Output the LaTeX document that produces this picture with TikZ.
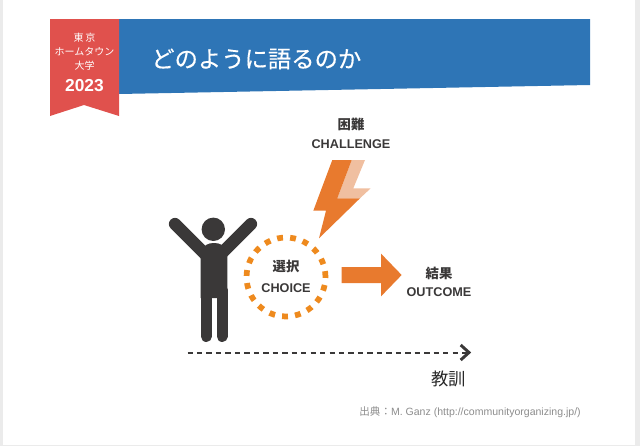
\documentclass[tikz,border=0pt]{standalone}
\usepackage{fontspec}
\setmainfont{Noto Sans CJK JP}
\newfontfamily\latinbold{Liberation Sans}
\newfontfamily\titlefont[FakeBold=0.4]{Noto Sans CJK JP}
\usetikzlibrary{arrows.meta,positioning,shapes.arrows}
\definecolor{ribbon}{HTML}{E0514D}
\definecolor{banner}{HTML}{2E75B6}
\definecolor{bolt}{HTML}{E87A2E}
\definecolor{boltlight}{HTML}{F0BFA0}
\definecolor{ring}{HTML}{EE8A1E}
\definecolor{figure}{HTML}{3A3838}
\begin{document}
\begin{tikzpicture}[
	x=0.75pt,y=-0.75pt,
	caption/.style={text=figure,font=\fontsize{10}{12}\selectfont\bfseries,align=center,inner sep=0pt},
	captionen/.style={caption,font=\latinbold\fontsize{9.5}{12}\selectfont\bfseries},
	limb/.style={figure,line width=9.2pt,line cap=round}
	]
	\useasboundingbox (0,0) rectangle (640,446);
	\fill[black!8] (0,0) rectangle (3,446);
	\fill[black!8] (635,0) rectangle (640,446);
	\fill[black!8] (0,445) rectangle (640,446);
	
	\fill[banner] (119,19) -- (590,19) -- (590,85) -- (119,94) -- cycle;
	\fill[ribbon] (50,19) -- (119,19) -- (119,116) -- (84,105) -- (50,116) -- cycle;
	\node[text=white,inner sep=0pt,align=center,font=\fontsize{7.5}{10.5}\selectfont] (school) at (84.5,52) {東\,京\\ホームタウン\\大学};
	\node[text=white,inner sep=0pt,font=\latinbold\fontsize{13}{14}\selectfont\bfseries] (year) at (84.5,86) {2023};
	\node[text=white,inner sep=0pt,anchor=west,font=\titlefont\fontsize{17.5}{20}\selectfont] (title) at (151,59) {どのように語るのか};
	
	% person
	\fill[figure] (213.3,229.3) circle (11.7);
	\draw[limb] (175,224) -- (205,254);
	\draw[limb] (251,224) -- (221,254);
	\fill[figure] (200.7,298) -- (200.7,252) .. controls (204,245) and (208,243) .. (214,243) .. controls (220,243) and (224,245) .. (227.3,252) -- (227.3,298) -- cycle;
	\draw[limb,line width=8.25pt] (206.2,290) -- (206.2,336.5);
	\draw[limb,line width=8.25pt] (222,290) -- (222,336.5);
	
	\node[circle,draw=ring,line width=4.3pt,dash pattern=on 4.4pt off 5.35pt,minimum size=59.2pt,inner sep=0pt] (choice) at (286,277) {};
	\node[caption] (choiceja) at (286,266) {選択};
	\node[captionen] (choiceen) at (286,288) {CHOICE};
	
	% bolt
	\fill[boltlight] (351.7,160) -- (365,160) -- (353.3,188.3) -- (370.7,188.3) -- (360,198.3) -- (337.3,198.3) -- cycle;
	\fill[bolt] (332.3,160) -- (351.7,160) -- (337.3,198.3) -- (360,198.3) -- (319,238.3) -- (326,210.7) -- (313.3,210.7) -- cycle;
	\node[caption] (challengeja) at (351,124) {困難};
	\node[captionen] (challengeen) at (351,144) {CHALLENGE};
	
	\node[single arrow,fill=bolt,text height=11.6pt,text depth=0pt,minimum height=45pt,minimum width=31.5pt,single arrow head extend=10pt,inner sep=0pt,single arrow tip angle=92] (result) at (367.8,275) {};
	\node[caption] (outcomeja) at (439,273) {結果};
	\node[captionen] (outcomeen) at (439,292) {OUTCOME};
	
	\coordinate (start) at (187.5,352.5);
	\coordinate (end) at (469,352.5);
	\draw[figure,line width=1.5pt,dash pattern=on 4pt off 3.1pt] (start) -- (end);
	\draw[figure,line width=2.2pt] (460.7,345) -- (end) -- (460.7,360);
	\node[text=black!85,inner sep=0pt,font=\fontsize{13}{15}\selectfont] (lesson) at (448.5,379) {教訓};
	\node[text=black!45,inner sep=0pt,anchor=east,font=\fontsize{7.9}{9}\selectfont] (source) at (581,412) {出典：{\latinbold M. Ganz (http://communityorganizing.jp/)}};
\end{tikzpicture}
\end{document}
